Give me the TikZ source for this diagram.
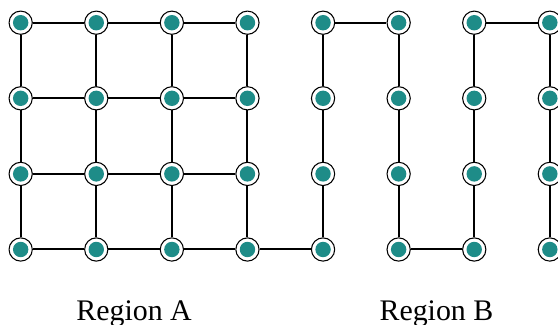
\documentclass[tikz,border=0pt]{standalone}
\usepackage{fontspec}
\setmainfont{Liberation Serif}

\definecolor{siteteal}{RGB}{30,140,136}

\tikzset{
  site/.style={circle, draw=black, line width=0.8pt, fill=white,
    minimum size=17.5pt, inner sep=0pt,
    path picture={\fill[siteteal] (path picture bounding box.center) circle (5.8pt);}},
  bond/.style={black, line width=1.5pt},
  region/.style={anchor=base, font=\fontsize{22.5}{27}\selectfont}
}

\begin{document}
\begin{tikzpicture}

  \useasboundingbox (-0.547,0.601) rectangle (14.216,-7.972);

  % lattice sites, 8 columns by 4 rows
  \foreach \i in {0,...,7}
    \foreach \j in {0,...,3}
      \node[site] (s\i\j) at (2*\i,-2*\j) {};

  % vertical bonds in every column
  \foreach \i in {0,...,7}
    \draw[bond] (s\i0) -- (s\i1) -- (s\i2) -- (s\i3);

  % horizontal bonds of the square grid
  \foreach \j in {0,...,3}
    \draw[bond] (s0\j) -- (s1\j) -- (s2\j) -- (s3\j);

  % snake links
  \draw[bond] (s33) -- (s43);
  \draw[bond] (s40) -- (s50);
  \draw[bond] (s53) -- (s63);
  \draw[bond] (s60) -- (s70);

  % region labels
  \node[region] (labA) at (3,-7.866) {Region A};
  \node[region] (labB) at (11,-7.866) {Region B};

\end{tikzpicture}
\end{document}
